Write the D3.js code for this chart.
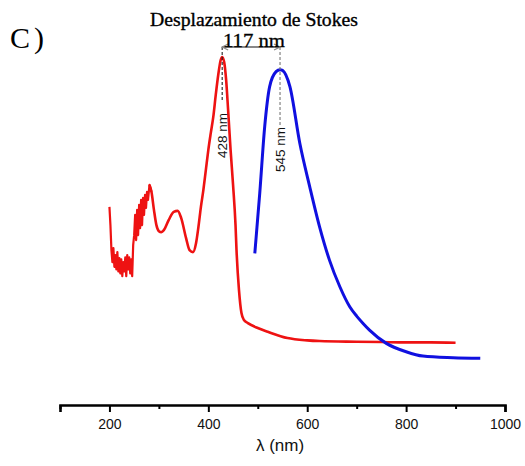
<!DOCTYPE html>
<html><head><meta charset="utf-8">
<script src="https://cdn.jsdelivr.net/npm/d3@7"></script>
<style>body{margin:0;background:#fff}svg{display:block}</style>
</head><body>
<svg id="c" width="525" height="466"></svg>
<script>
// Absorption (red) spectrum: wavelength (nm) and normalized intensity
const absWl = [200,202,204,206,208,210,212,214,216,218,220,222,224,226,228,230,232,234,236,238,240,242,244,246,248,250,252,254,256,258,260,262,264,266,268,270,272,274,276,278,281,285,290,295,300,305,310,320,330,338,345,355,362,369,375,380,385,390,395,400,405,410,415,420,425,428,432,436,440,445,450,455,457,462,467,472,480,500,520,560,600,625,700,750,800,850,900];
const absVal = [0.550,0.495,0.420,0.384,0.426,0.370,0.405,0.362,0.414,0.356,0.396,0.350,0.392,0.342,0.384,0.356,0.398,0.342,0.405,0.362,0.398,0.350,0.392,0.342,0.435,0.465,0.526,0.450,0.541,0.465,0.556,0.486,0.571,0.495,0.577,0.526,0.586,0.547,0.595,0.571,0.616,0.595,0.541,0.495,0.477,0.474,0.480,0.511,0.535,0.538,0.517,0.456,0.420,0.414,0.440,0.490,0.550,0.601,0.661,0.721,0.772,0.820,0.886,0.946,0.991,1.000,0.985,0.931,0.841,0.721,0.616,0.495,0.420,0.300,0.231,0.210,0.201,0.186,0.175,0.156,0.149,0.147,0.145,0.144,0.143,0.143,0.142];
// Emission (blue) spectrum
const emWl = [494,504,514,524,537,545,550,565,585,605,625,645,666,686,700,713,726,760,800,834,895,950];
const emVal = [0.410,0.591,0.791,0.911,0.956,0.962,0.960,0.911,0.741,0.611,0.490,0.390,0.310,0.250,0.222,0.200,0.180,0.140,0.115,0.102,0.097,0.095];
const xTicks = [100,200,300,400,500,600,700,800,900,1000];
const xLabels = ["","200","","400","","600","","800","","1000"];
const peakAbs = 428, peakEm = 545;

const svg = d3.select("#c");
const x = d3.scaleLinear().domain([100,1000]).range([60,505]);
const y = d3.scaleLinear().domain([0,1]).range([390,57]);

// axis
const axisY = 405;
const ax = svg.append("g").attr("transform",`translate(0,${axisY})`)
  .call(d3.axisBottom(x).tickValues(xTicks).tickFormat((d,i)=>xLabels[i]).tickSizeOuter(0).tickSize(7).tickPadding(7));
ax.select(".domain").attr("stroke","#000").attr("stroke-width",2.6);
ax.selectAll(".tick line").attr("stroke","#000").attr("stroke-width",2)
  .attr("y2",(d,i)=>xLabels[i]===""?4:7);
ax.selectAll(".tick text").attr("font-family","Liberation Sans, Arial, sans-serif").attr("font-size",14).attr("fill","#111");

svg.append("text").attr("x",280).attr("y",451).attr("text-anchor","middle")
  .attr("font-family","Liberation Sans, Arial, sans-serif").attr("font-size",17).attr("fill","#111").text("λ (nm)");

// curves
const line = d3.line().x(d=>x(d[0])).y(d=>y(d[1])).curve(d3.curveMonotoneX);
const linear = d3.line().x(d=>x(d[0])).y(d=>y(d[1]));
const absData = absWl.map((w,i)=>[w,absVal[i]]);
svg.append("path").datum(absData.filter(d=>d[0]<=285)).attr("d",linear)
  .attr("fill","none").attr("stroke","#ee1212").attr("stroke-width",2.2).attr("stroke-linejoin","round");
svg.append("path").datum(absData.filter(d=>d[0]>=281)).attr("d",line)
  .attr("fill","none").attr("stroke","#ee1212").attr("stroke-width",2.6).attr("stroke-linejoin","round");
svg.append("path").datum(emWl.map((w,i)=>[w,emVal[i]])).attr("d",line)
  .attr("fill","none").attr("stroke","#1010e0").attr("stroke-width",3).attr("stroke-linejoin","round");

// dashed peak markers
const arrowY = 47;
svg.append("line").attr("x1",x(peakAbs)).attr("x2",x(peakAbs)).attr("y1",arrowY).attr("y2",100)
  .attr("stroke","#222").attr("stroke-width",1.1).attr("stroke-dasharray","3,2");
svg.append("line").attr("x1",x(peakEm)).attr("x2",x(peakEm)).attr("y1",arrowY).attr("y2",126)
  .attr("stroke","#777").attr("stroke-width",1.1).attr("stroke-dasharray","3,2");

// rotated labels
svg.append("text").attr("transform",`translate(${x(peakAbs)+5},135.5) rotate(-90)`).attr("text-anchor","middle")
  .attr("font-family","Liberation Sans, Arial, sans-serif").attr("font-size",13.5).attr("fill","#111").text(peakAbs+" nm");
svg.append("text").attr("transform",`translate(${x(peakEm)+5},149.5) rotate(-90)`).attr("text-anchor","middle")
  .attr("font-family","Liberation Sans, Arial, sans-serif").attr("font-size",13.5).attr("fill","#111").text(peakEm+" nm");

// double arrow
const ax1 = x(peakAbs), ax2 = x(peakEm);
svg.append("line").attr("x1",ax1).attr("x2",ax2).attr("y1",arrowY).attr("y2",arrowY)
  .attr("stroke","#888").attr("stroke-width",1.8);
svg.append("path").attr("d",`M${ax1+6},${arrowY-3}L${ax1},${arrowY}L${ax1+6},${arrowY+3}`).attr("fill","none").attr("stroke","#888").attr("stroke-width",1.2);
svg.append("path").attr("d",`M${ax2-6},${arrowY-3}L${ax2},${arrowY}L${ax2-6},${arrowY+3}`).attr("fill","none").attr("stroke","#888").attr("stroke-width",1.2);

// titles
svg.append("text").attr("x",254).attr("y",26).attr("text-anchor","middle")
  .attr("font-family","Liberation Serif, Times New Roman, serif").attr("font-size",18.5)
  .attr("stroke","#000").attr("stroke-width",0.35)
  .attr("textLength",208).attr("lengthAdjust","spacingAndGlyphs").attr("fill","#000").text("Desplazamiento de Stokes");
svg.append("text").attr("x",254).attr("y",46.5).attr("text-anchor","middle")
  .attr("font-family","Liberation Serif, Times New Roman, serif").attr("font-size",19)
  .attr("stroke","#000").attr("stroke-width",0.3)
  .attr("textLength",62).attr("lengthAdjust","spacingAndGlyphs").attr("fill","#000").text((peakEm-peakAbs)+" nm");
svg.append("text").attr("x",10).attr("y",48)
  .attr("font-family","Liberation Serif, Times New Roman, serif").attr("font-size",30).attr("letter-spacing",4).attr("fill","#000").text("C)");
</script>
</body></html>
